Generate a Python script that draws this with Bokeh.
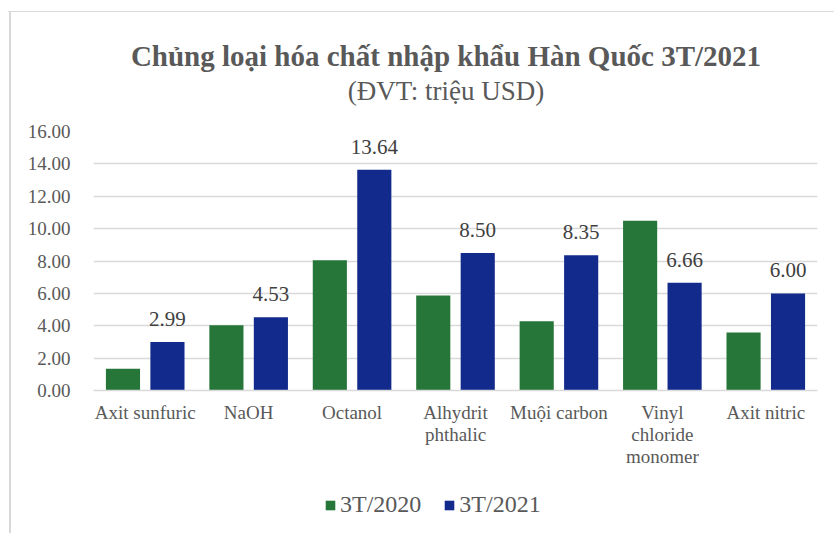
from bokeh.plotting import figure
from bokeh.layouts import column
from bokeh.models import (ColumnDataSource, FactorRange, Range1d, FixedTicker,
                          PrintfTickFormatter, Legend, LegendItem, LabelSet, Div)
from bokeh.transform import dodge
from bokeh.embed import file_html
from bokeh.resources import INLINE

title_text = "Chủng loại hóa chất nhập khẩu Hàn Quốc 3T/2021"
subtitle_text = "(ĐVT: triệu USD)"
categories = ["Axit sunfuric", "NaOH", "Octanol", "Alhydrit\nphthalic",
              "Muội carbon", "Vinyl\nchloride\nmonomer", "Axit nitric"]
v2020 = [1.35, 4.03, 8.05, 5.87, 4.28, 10.48, 3.59]
v2021 = [2.99, 4.53, 13.64, 8.50, 8.35, 6.66, 6.00]
labels2021 = ["2.99", "4.53", "13.64", "8.50", "8.35", "6.66", "6.00"]
series_names = ["3T/2020", "3T/2021"]
y_ticks = [0, 2, 4, 6, 8, 10, 12, 14, 16]

FONT = "'Liberation Serif', 'Times New Roman', serif"
GRAY = "#595959"
GREEN = "#277639"
BLUE = "#112a8c"

src = ColumnDataSource(dict(cat=categories, v2020=v2020, v2021=v2021, lab=labels2021))

# title block
head = Div(
    text=(f'<div style="padding:39px 0 0 58px; box-sizing:border-box; width:834px; '
          f'text-align:center; color:{GRAY}; font-family:{FONT};">'
          f'<div style="font-size:29px; font-weight:bold; line-height:34px; '
          f'white-space:nowrap;">{title_text}</div>'
          f'<div style="font-size:27px; font-weight:normal; line-height:34px; '
          f'margin-top:1px; white-space:nowrap;">{subtitle_text}</div></div>'),
    width=834, height=116, margin=0)

p = figure(x_range=FactorRange(factors=categories), y_range=Range1d(0, 16),
           width=834, height=362, output_backend="svg", toolbar_location=None,
           min_border_left=93, min_border_right=17, min_border_top=15,
           min_border_bottom=88)
p.border_fill_color = None
p.outline_line_color = None

r1 = p.vbar(x=dodge("cat", -0.215, range=p.x_range), top="v2020", width=0.33,
            source=src, fill_color=GREEN, line_color=None)
r2 = p.vbar(x=dodge("cat", 0.215, range=p.x_range), top="v2021", width=0.33,
            source=src, fill_color=BLUE, line_color=None)

lbl = LabelSet(x=dodge("cat", 0.215, range=p.x_range), y="v2021", text="lab",
               source=src, text_align="center", text_baseline="alphabetic",
               y_offset=16, text_font=FONT, text_font_size="21px",
               text_color="#404040")
p.add_layout(lbl)

# axes
p.yaxis.ticker = FixedTicker(ticks=y_ticks)
p.yaxis.formatter = PrintfTickFormatter(format="%.2f")
p.yaxis.axis_line_color = None
p.yaxis.major_tick_line_color = None
p.yaxis.minor_tick_line_color = None
p.yaxis.major_label_standoff = 17
p.yaxis.major_label_text_font = FONT
p.yaxis.major_label_text_font_size = "19px"
p.yaxis.major_label_text_color = GRAY

p.xaxis.axis_line_color = "#d9d9d9"
p.xaxis.axis_line_width = 1.5
p.xaxis.major_tick_line_color = None
p.xaxis.minor_tick_line_color = None
p.xaxis.major_label_standoff = 5
p.xaxis.major_label_text_font = FONT
p.xaxis.major_label_text_font_size = "19px"
p.xaxis.major_label_text_line_height = 1.05
p.xaxis.major_label_text_color = GRAY

p.xgrid.grid_line_color = None
p.ygrid.grid_line_color = "#d9d9d9"
p.ygrid.grid_line_width = 1.5

# legend strip: hidden copies of the bar renderers supply the legend glyphs
lg = figure(width=834, height=55, output_backend="svg", toolbar_location=None,
            x_range=p.x_range, y_range=Range1d(0, 16), min_border=0)
lg.axis.visible = False
lg.grid.grid_line_color = None
lg.outline_line_color = None
lg.border_fill_color = None
lg.background_fill_color = None
g1 = lg.vbar(x=dodge("cat", -0.215, range=p.x_range), top="v2020", width=0.33,
             source=src, fill_color=GREEN, line_color=None, visible=False)
g2 = lg.vbar(x=dodge("cat", 0.215, range=p.x_range), top="v2021", width=0.33,
             source=src, fill_color=BLUE, line_color=None, visible=False)
legend = Legend(items=[LegendItem(label=series_names[0], renderers=[g1]),
                       LegendItem(label=series_names[1], renderers=[g2])],
                orientation="horizontal", location=(231, 15),
                glyph_width=12, glyph_height=12, label_standoff=4, spacing=22,
                padding=0, margin=0, border_line_color=None,
                background_fill_alpha=0, inactive_fill_alpha=0,
                label_text_font=FONT, label_text_font_size="24px",
                label_text_color=GRAY)
lg.add_layout(legend, "center")

layout = column(head, p, lg, spacing=0)
layout.styles = {
    "background": ("linear-gradient(#d9d9d9,#d9d9d9) 8px 11px / 826px 1px no-repeat, "
                   "linear-gradient(#d9d9d9,#d9d9d9) 9px 11px / 2px 522px no-repeat")
}

open("out.html", "w").write(file_html(layout, INLINE))
